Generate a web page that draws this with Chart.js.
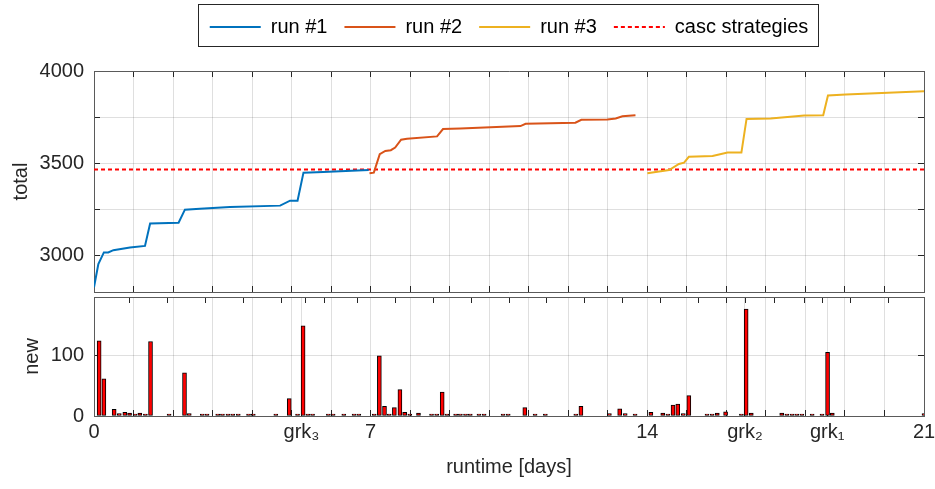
<!DOCTYPE html>
<html>
<head>
<meta charset="utf-8">
<script src="https://cdn.jsdelivr.net/npm/chart.js@4.4.1/dist/chart.umd.min.js"></script>
<style>
  html, body { margin: 0; padding: 0; background: #fff; overflow: hidden; }
  .wrap { position: relative; width: 935px; height: 489px; }
  #topChart { position: absolute; left: 0; top: 0; }
  #botChart { position: absolute; left: 0; top: 292px; }
</style>
</head>
<body>
<div class="wrap">
  <canvas id="topChart" width="935" height="300"></canvas>
  <canvas id="botChart" width="935" height="197"></canvas>
</div>
<script>
// runs (days, total)
const run1Days = [0, 0.11, 0.25, 0.36, 0.49, 0.91, 1.29, 1.42, 2.14, 2.30, 2.68, 3.44, 4.71, 4.96, 5.15, 5.30, 5.80, 6.95];
const run1Total = [2826, 2952, 3015, 3015, 3027, 3041, 3050, 3172, 3176, 3247, 3252, 3262, 3269, 3296, 3296, 3448, 3452, 3462];

const run2Days = [6.97, 7.08, 7.23, 7.37, 7.51, 7.62, 7.77, 7.92, 8.68, 8.83, 9.27, 10.79, 10.92, 12.18, 12.33, 12.99, 13.20, 13.37, 13.70];
const run2Total = [3445, 3448, 3548, 3566, 3570, 3584, 3627, 3632, 3645, 3685, 3688, 3701, 3713, 3719, 3735, 3737, 3742, 3754, 3760];

const run3Days = [14.00, 14.55, 14.80, 14.93, 15.05, 15.65, 16.03, 16.38, 16.51, 17.12, 17.97, 18.45, 18.57, 19.02, 21.0];
const run3Total = [3445, 3462, 3495, 3502, 3534, 3539, 3557, 3557, 3740, 3742, 3758, 3760, 3867, 3873, 3890];

const cascValue = 3465;

// new per step
const newDays = [0.13, 0.25, 0.51, 0.64, 0.78, 0.90, 1.04, 1.16, 1.30, 1.43, 1.90, 2.29, 2.41, 2.74, 2.86, 3.13, 3.25, 3.39, 3.51, 3.65,
  3.91, 4.03, 4.60, 4.94, 5.15, 5.29, 5.41, 5.53, 5.93, 6.05, 6.32, 6.58, 6.70, 7.09, 7.22, 7.35, 7.47, 7.60, 7.74, 7.86,
  7.99, 8.21, 8.54, 8.67, 8.81, 8.93, 9.15, 9.27, 9.40, 9.52, 9.74, 9.87, 10.35, 10.48, 10.90, 11.16, 11.42, 12.19, 12.32, 13.04,
  13.30, 13.44, 13.69, 14.09, 14.39, 14.52, 14.65, 14.77, 14.91, 15.05, 15.51, 15.64, 15.77, 15.98, 16.38, 16.50, 16.63, 17.40, 17.53, 17.66,
  17.78, 17.91, 18.17, 18.42, 18.56, 18.68, 21.0];
const newCount = [125, 62, 11, 4, 6, 5, 1, 5, 1, 124, 3, 72, 4, 1, 1, 1, 1, 3, 1, 2,
  1, 1, 1, 29, 1, 150, 1, 1, 1, 1, 2, 1, 1, 3, 100, 16, 2, 14, 44, 6,
  1, 5, 2, 1, 40, 3, 1, 2, 1, 1, 1, 1, 1, 3, 14, 1, 1, 2, 16, 4,
  12, 4, 3, 6, 5, 2, 18, 20, 4, 34, 2, 2, 5, 7, 1, 178, 5, 5, 2, 2,
  2, 1, 1, 1, 106, 5, 4];

// axis ticks
const dayTicks = [0,1,2,3,4,5,6,7,8,9,10,11,12,13,14,15,16,17,18,19,20,21];
const dayLabels = {0: '0', 7: '7', 14: '14', 21: '21'};
const grkTicks = [5.25, 16.47, 18.55];
const grkLabels = ['grk\u2083', 'grk\u2082', 'grk\u2081'];
const totalTicks = [3000, 3250, 3500, 3750, 4000];
const newTicks = [0, 100];

Chart.defaults.font.family = '"Liberation Sans", Arial, sans-serif';
Chart.defaults.font.size = 20;
Chart.defaults.color = '#262626';

const GRID = 'rgba(38,38,38,0.15)';
const FRAME = '#5a5a5a';
const TICKC = '#262626';

function pts(xs, ys) {
  return xs.map((x, i) => ({x: x, y: ys[i]}));
}

function setTicks(vals) {
  return function(scale) { scale.ticks = vals.map(v => ({value: v})); };
}

// fixed axis size, and no extra room asked for the tick labels
function fixSize(size) {
  return function(s) {
    if (s.isHorizontal()) s.height = size; else s.width = size;
    s.paddingTop = 0; s.paddingBottom = 0; s.paddingLeft = 0; s.paddingRight = 0;
  };
}

// frame around legend, like the matlab one
const legendBox = {
  id: 'legendBox',
  afterDraw(chart) {
    const lg = chart.legend;
    if (!lg || !lg.legendHitBoxes.length) return;
    const hb = lg.legendHitBoxes;
    const last = hb[hb.length - 1];
    const l = Math.round(hb[0].left - 12);
    const r = Math.round(last.left + last.width + 10);
    const ctx = chart.ctx;
    ctx.save();
    ctx.strokeStyle = '#262626';
    ctx.lineWidth = 1;
    ctx.strokeRect(l + 0.5, 4.5, r - l, 42);
    ctx.restore();
  }
};

function sideAxis(pos, min, max, ticks, size) {
  return {
    type: 'linear', position: pos, min: min, max: max,
    afterBuildTicks: setTicks(ticks),
    ticks: {display: false},
    grid: {drawOnChartArea: false, tickLength: -6, tickColor: TICKC},
    border: {color: FRAME, width: 1},
    afterFit: fixSize(size)
  };
}

new Chart(document.getElementById('topChart'), {
  type: 'line',
  data: {
    datasets: [
      {label: 'run #1', data: pts(run1Days, run1Total), borderColor: '#0072BD', backgroundColor: '#0072BD', borderWidth: 2},
      {label: 'run #2', data: pts(run2Days, run2Total), borderColor: '#D95319', backgroundColor: '#D95319', borderWidth: 2},
      {label: 'run #3', data: pts(run3Days, run3Total), borderColor: '#EDB120', backgroundColor: '#EDB120', borderWidth: 2},
      {label: 'casc strategies', data: [{x: 0, y: cascValue}, {x: 21, y: cascValue}], borderColor: '#ff0000', backgroundColor: '#ff0000', borderWidth: 2, borderDash: [4, 3]}
    ]
  },
  options: {
    responsive: false,
    animation: false,
    layout: {padding: 0, autoPadding: false},
    elements: {point: {radius: 0}, line: {tension: 0}},
    plugins: {
      tooltip: {enabled: false},
      legend: {
        position: 'top',
        fullSize: false,
        labels: {boxWidth: 51, boxHeight: 0, padding: 17, color: '#000'}
      }
    },
    scales: {
      x: {
        type: 'linear', min: 0, max: 21,
        afterBuildTicks: setTicks(dayTicks),
        ticks: {display: false},
        grid: {color: GRID, tickLength: -6, tickColor: TICKC},
        border: {color: FRAME, width: 1},
        afterFit: fixSize(8)
      },
      xTop: sideAxis('top', 0, 21, dayTicks, 24),
      y: {
        type: 'linear', min: 2800, max: 4000,
        afterBuildTicks: setTicks(totalTicks),
        ticks: {padding: 16, callback: v => (v % 500 === 0 ? v : '')},
        grid: {color: GRID, tickLength: -6, tickColor: TICKC},
        border: {color: FRAME, width: 1},
        title: {display: true, text: 'total', padding: {top: 9, bottom: 0}},
        afterFit: fixSize(94)
      },
      yRight: sideAxis('right', 2800, 4000, totalTicks, 11)
    }
  },
  plugins: [legendBox]
});

const xTickVals = dayTicks.concat(grkTicks).sort((a, b) => a - b);

new Chart(document.getElementById('botChart'), {
  type: 'bar',
  data: {
    datasets: [
      {label: 'new', data: pts(newDays, newCount), backgroundColor: '#ff0000', borderColor: '#000', borderWidth: 1,
       barThickness: 4, minBarLength: 2, borderSkipped: false}
    ]
  },
  options: {
    responsive: false,
    animation: false,
    layout: {padding: 0, autoPadding: false},
    plugins: {tooltip: {enabled: false}, legend: {display: false}},
    scales: {
      x: {
        type: 'linear', min: 0, max: 21, offset: false,
        afterBuildTicks: setTicks(xTickVals),
        ticks: {
          autoSkip: false, maxRotation: 0, padding: 10,
          callback: v => {
            const g = grkTicks.indexOf(v);
            if (g >= 0) return grkLabels[g];
            return dayLabels[v] !== undefined ? dayLabels[v] : '';
          }
        },
        grid: {color: GRID, tickLength: -6, tickColor: TICKC, offset: false},
        border: {color: FRAME, width: 1},
        title: {display: true, text: 'runtime [days]', padding: {top: 4, bottom: 10}},
        afterFit: fixSize(73)
      },
      xTop: sideAxis('top', 0, 21, xTickVals, 5),
      y: {
        type: 'linear', min: 0, max: 198,
        afterBuildTicks: setTicks(newTicks),
        ticks: {padding: 16},
        grid: {color: GRID, tickLength: -6, tickColor: TICKC},
        border: {color: FRAME, width: 1},
        title: {display: true, text: 'new', padding: {top: 20, bottom: 0}},
        afterFit: fixSize(94)
      },
      yRight: sideAxis('right', 0, 198, newTicks, 11)
    }
  }
});
</script>
</body>
</html>
